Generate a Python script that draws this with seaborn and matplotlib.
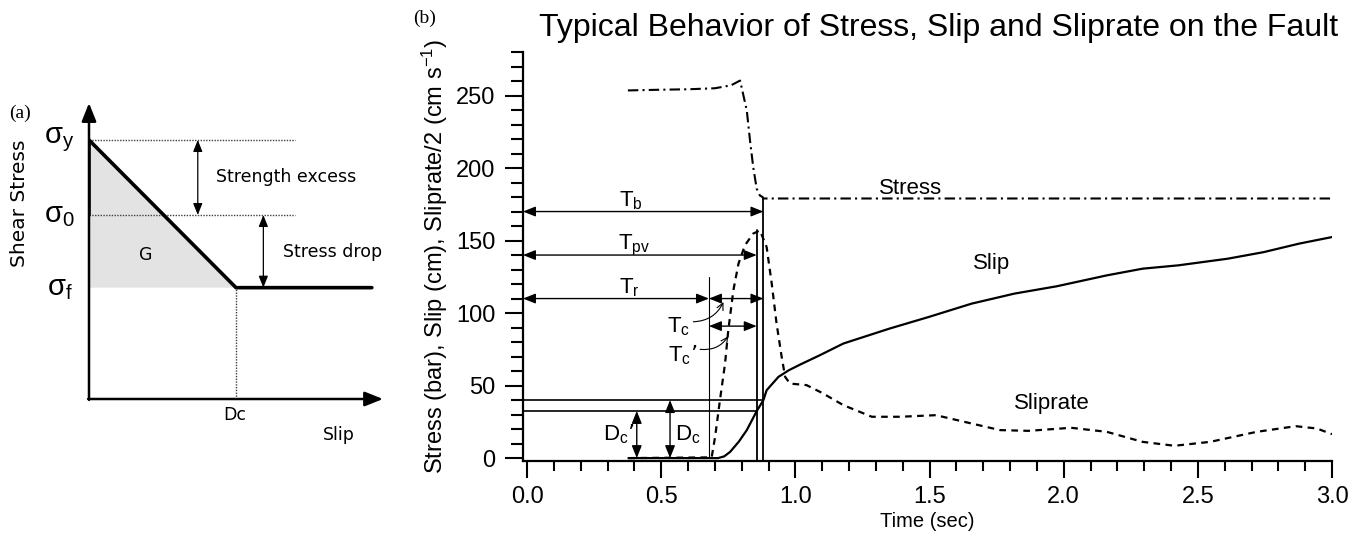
import matplotlib
matplotlib.use("Agg")
import matplotlib.pyplot as plt
import seaborn as sns
from matplotlib.ticker import MultipleLocator, FormatStrFormatter

# ---- panel (b) curves ----
stress_t = [0.376, 0.50, 0.60, 0.70, 0.76, 0.794, 0.819, 0.831, 0.843, 0.856, 0.868, 0.878, 0.881, 3.0]
stress_v = [253.5, 254.0, 254.3, 255.0, 257.0, 260.3, 239.7, 219.0, 200.6, 185.7, 181.0, 180.0, 179.0, 179.0]

slip_t = [0.378, 0.712, 0.735, 0.757, 0.790, 0.819, 0.856, 0.881, 0.893, 0.937, 0.975, 1.018, 1.092,
          1.179, 1.351, 1.497, 1.657, 1.816, 1.975, 2.161, 2.294, 2.427, 2.612, 2.745, 2.878, 3.0]
slip_v = [0.0, 0.0, 1.2, 4.3, 11.5, 19.3, 32.4, 40.0, 46.8, 56.0, 60.5, 64.5, 71.0,
          79.0, 89.3, 97.3, 106.5, 113.4, 118.5, 126.0, 130.6, 132.9, 137.5, 142.0, 147.9, 152.4]

rate_t = [0.378, 0.688, 0.701, 0.719, 0.738, 0.750, 0.769, 0.788, 0.812, 0.843, 0.868, 0.893, 0.912,
          0.930, 0.949, 0.962, 0.980, 1.042, 1.099, 1.179, 1.285, 1.391, 1.524, 1.630, 1.763, 1.869,
          2.028, 2.161, 2.294, 2.413, 2.546, 2.719, 2.865, 2.944, 3.0]
rate_v = [0.0, 0.5, 14.7, 40.0, 65.2, 88.0, 115.7, 134.0, 146.7, 154.8, 157.0, 145.5, 120.3,
          92.8, 69.8, 56.0, 51.4, 50.3, 45.0, 36.5, 28.5, 28.5, 29.6, 25.0, 19.3, 18.8,
          20.9, 18.1, 11.2, 8.5, 11.2, 18.1, 22.0, 20.4, 16.5]

# timing marks (sec) and slip levels (cm)
t_r, t_pv, t_b = 0.678, 0.856, 0.881
dc_prime, dc = 32.5, 40.0
y_tb, y_tpv, y_tr, y_tcp = 170.0, 140.0, 110.0, 91.0

# ---- panel (a) slip-weakening law (normalised units) ----
sig_y, sig_0, sig_f, d_c = 0.884, 0.628, 0.380, 0.50
law_slip = [0.0, 0.0, d_c, 0.962]
law_stress = [sig_0, sig_y, sig_f, sig_f]

sns.set_style("ticks")
plt.rcParams["font.family"] = ["Liberation Sans", "DejaVu Sans"]
plt.rcParams["mathtext.default"] = "regular"
for key in ("text.color", "axes.labelcolor", "xtick.color", "ytick.color", "axes.edgecolor"):
    plt.rcParams[key] = "black"

W, H = 1361, 546
fig = plt.figure(figsize=(W / 100, H / 100), dpi=100)

# ================= panel (a) =================
axa = fig.add_axes([89 / W, (H - 399) / H, 294 / W, 293 / H])
axa.set_xlim(0, 1)
axa.set_ylim(0, 1)
axa.axis("off")

axa.fill([0, d_c, 0], [sig_y, sig_f, sig_f], color="#e3e3e3", lw=0, zorder=1)
for lev in (sig_y, sig_0):
    axa.plot([0, 0.70], [lev, lev], ls=(0, (1, 1)), lw=1.0, color="0.25", zorder=2)
axa.plot([d_c, d_c], [0, sig_f], ls=(0, (1, 1)), lw=1.0, color="0.25", zorder=2)
sns.lineplot(x=law_slip, y=law_stress, ax=axa, color="k", lw=2.6, sort=False, estimator=None, zorder=4)

ax_arrow = dict(arrowstyle="-|>,head_length=0.55,head_width=0.22", mutation_scale=20,
                lw=1.8, color="k", shrinkA=0, shrinkB=0)
axa.annotate("", xy=(1.0, 0), xytext=(-0.003, 0), arrowprops=ax_arrow, annotation_clip=False)
axa.annotate("", xy=(0, 1.01), xytext=(0, -0.003), arrowprops=ax_arrow, annotation_clip=False)

small = dict(arrowstyle="<|-|>,head_length=0.5,head_width=0.2", mutation_scale=14,
             lw=0.9, color="k", shrinkA=0, shrinkB=0)
axa.annotate("", xy=(0.370, sig_0), xytext=(0.370, sig_y), arrowprops=small)
axa.annotate("", xy=(0.593, sig_f), xytext=(0.593, sig_0), arrowprops=small)

fa = ["DejaVu Sans"]
axa.text(0.432, 0.759, "Strength excess", fontsize=12.5, va="center", family=fa)
axa.text(0.66, 0.503, "Stress drop", fontsize=12.5, va="center", family=fa)
axa.text(0.194, 0.491, "G", fontsize=12.5, ha="center", va="center", family=fa)
axa.text(0.497, -0.055, "Dc", fontsize=12.5, ha="center", va="center", family=fa)
axa.text(0.851, -0.123, "Slip", fontsize=12.5, ha="center", va="center", family=fa)
axa.text(-0.235, 0.669, "Shear Stress", fontsize=14.5, ha="center", va="center",
         rotation=90, family=fa)
for lev, lab in ((sig_y, "$\\sigma_y$"), (sig_0, "$\\sigma_0$"), (sig_f, "$\\sigma_f$")):
    axa.text(-0.10, lev, lab, fontsize=21, ha="center", va="center")

fig.text(20 / W, 1 - 113 / H, "(a)", fontsize=14, ha="center", va="center", family=["Liberation Serif"])
fig.text(425 / W, 1 - 18 / H, "(b)", fontsize=14, ha="center", va="center", family=["Liberation Serif"])

# ================= panel (b) =================
ax = fig.add_axes([523 / W, (H - 461) / H, 809 / W, 409 / H])
sns.lineplot(x=stress_t, y=stress_v, ax=ax, color="k", lw=1.5, sort=False, estimator=None,
             linestyle=(0, (5, 2, 1, 2)))
sns.lineplot(x=slip_t, y=slip_v, ax=ax, color="k", lw=1.6, sort=False, estimator=None)
sns.lineplot(x=rate_t, y=rate_v, ax=ax, color="k", lw=1.6, sort=False, estimator=None,
             linestyle=(0, (3, 2.4)))

ax.set_xlim(-0.015, 3.0)
ax.set_ylim(-2, 280)
sns.despine(ax=ax)
for s in ("left", "bottom"):
    ax.spines[s].set_linewidth(1.6)
ax.xaxis.set_major_locator(MultipleLocator(0.5))
ax.xaxis.set_minor_locator(MultipleLocator(0.1))
ax.xaxis.set_major_formatter(FormatStrFormatter("%.1f"))
ax.yaxis.set_major_locator(MultipleLocator(50))
ax.yaxis.set_minor_locator(MultipleLocator(10))
ax.tick_params(axis="x", which="major", direction="out", length=12, width=1.5, labelsize=17, pad=6)
ax.tick_params(axis="x", which="minor", direction="out", length=7, width=1.5)
ax.tick_params(axis="y", which="major", direction="out", length=13, width=1.5, labelsize=17, pad=7)
ax.tick_params(axis="y", which="minor", direction="out", length=9, width=1.5)
ax.set_xlabel("Time (sec)", fontsize=14.5, labelpad=3)
ax.set_ylabel("Stress (bar), Slip (cm), Sliprate/2 (cm s$^{\u22121}$)", fontsize=17, labelpad=4)

fig.text(939 / W, 1 - 28 / H, "Typical Behavior of Stress, Slip and Sliprate on the Fault",
         fontsize=23, ha="center", va="center")

# marker lines
x0 = -0.015
ax.plot([t_r, t_r], [0, 125], color="k", lw=0.8)
ax.plot([t_pv, t_pv], [-2, 157], color="k", lw=1.3)
ax.plot([t_b, t_b], [-2, 179], color="k", lw=1.3)
ax.plot([x0, t_b], [dc, dc], color="k", lw=1.2)
ax.plot([x0, t_pv], [dc_prime, dc_prime], color="k", lw=1.2)

dbl = dict(arrowstyle="<|-|>,head_length=0.5,head_width=0.2", mutation_scale=15,
           lw=1.0, color="k", shrinkA=0, shrinkB=0)
ax.annotate("", xy=(t_b, y_tb), xytext=(x0, y_tb), arrowprops=dbl)
ax.annotate("", xy=(t_pv, y_tpv), xytext=(x0, y_tpv), arrowprops=dbl)
ax.annotate("", xy=(t_r, y_tr), xytext=(x0, y_tr), arrowprops=dbl)
ax.annotate("", xy=(t_b, y_tr), xytext=(t_r, y_tr), arrowprops=dbl)
ax.annotate("", xy=(t_pv, y_tcp), xytext=(t_r, y_tcp), arrowprops=dbl)
ax.annotate("", xy=(0.409, dc_prime), xytext=(0.409, 0), arrowprops=dbl)
ax.annotate("", xy=(0.533, dc), xytext=(0.533, 0), arrowprops=dbl)

curv = dict(arrowstyle="->,head_length=0.4,head_width=0.2", mutation_scale=12, lw=0.8,
            color="k", connectionstyle="arc3,rad=0.3", shrinkA=0, shrinkB=0)
ax.annotate("", xy=(0.732, 107.6), xytext=(0.62, 94), arrowprops=curv)
ax.annotate("", xy=(0.750, 84), xytext=(0.645, 75), arrowprops=curv)

tf = 16
ax.text(0.386, 173.5, "$T_b$", fontsize=tf, ha="center", va="baseline")
ax.text(0.40, 143.7, "$T_{pv}$", fontsize=tf, ha="center", va="baseline")
ax.text(0.383, 113.4, "$T_r$", fontsize=tf, ha="center", va="baseline")
ax.text(0.521, 86.5, "$T_c$", fontsize=tf, ha="left", va="baseline")
ax.text(0.527, 67.0, "$T_c$\u2019", fontsize=tf, ha="left", va="baseline")
ax.text(0.282, 12.4, "$D_c$\u2019", fontsize=tf, ha="left", va="baseline")
ax.text(0.552, 12.4, "$D_c$", fontsize=tf, ha="left", va="baseline")

ax.text(1.431, 186, "Stress", fontsize=16, ha="center", va="center")
ax.text(1.732, 134, "Slip", fontsize=16, ha="center", va="center")
ax.text(1.955, 37.6, "Sliprate", fontsize=16, ha="center", va="center")

fig.savefig("out.png", dpi=100)
